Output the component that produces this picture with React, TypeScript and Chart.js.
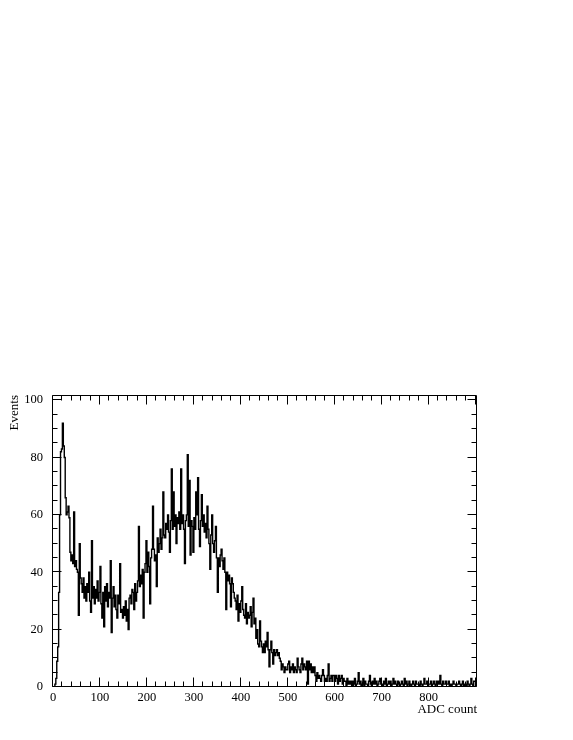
import React, { useEffect, useRef } from 'react';
import { Chart, registerables } from 'chart.js';

Chart.register(...registerables);

// ---- data (bins of width BIN_WIDTH starting at 0) ----
const BIN_WIDTH = 2;
// 0 – 58
const countsPeak = [
  0, 0, 0, 1, 3, 9, 14, 33, 60, 82,
  83, 92, 84, 80, 66, 60, 61, 63, 59, 47,
  44, 46, 43, 61, 42, 44, 41, 40, 25, 50,
];
// 60 – 218
const countsValley = [
  38, 36, 33, 38, 31, 35, 30, 36, 33, 40,
  30, 26, 51, 31, 35, 29, 34, 31, 37, 30,
  33, 42, 29, 24, 33, 21, 35, 30, 36, 28,
  33, 31, 44, 19, 31, 35, 28, 32, 27, 24,
  32, 29, 43, 26, 27, 24, 28, 25, 30, 23,
  27, 20, 31, 32, 29, 34, 33, 27, 36, 30,
  33, 37, 56, 35, 39, 36, 41, 24, 40, 43,
  51, 40, 47, 42, 29, 45, 48, 63, 48, 44,
];
// 220 – 418
const countsBump = [
  46, 35, 52, 47, 50, 55, 48, 52, 68, 53,
  52, 57, 55, 60, 54, 47, 58, 76, 55, 68,
  56, 60, 50, 59, 57, 61, 55, 76, 57, 60,
  55, 43, 58, 60, 81, 56, 72, 46, 58, 56,
  47, 59, 55, 68, 60, 73, 55, 49, 58, 67,
  56, 60, 54, 57, 52, 63, 55, 50, 41, 53,
  60, 50, 47, 51, 56, 45, 33, 45, 42, 46,
  48, 44, 41, 45, 40, 27, 40, 37, 39, 36,
  28, 38, 36, 33, 31, 30, 27, 32, 23, 29,
  26, 30, 35, 27, 25, 24, 29, 22, 26, 24,
];
// 420 – 598
const countsFall = [
  25, 28, 21, 26, 31, 22, 24, 17, 20, 15,
  14, 23, 16, 14, 12, 15, 12, 16, 14, 19,
  13, 7, 13, 16, 12, 8, 13, 11, 12, 13,
  11, 12, 10, 9, 6, 8, 7, 5, 7, 6,
  6, 8, 9, 5, 7, 6, 8, 5, 7, 6,
  5, 10, 7, 6, 5, 8, 10, 6, 8, 7,
  6, 9, 1, 9, 6, 8, 5, 7, 5, 7,
  4, 2, 5, 3, 4, 3, 2, 4, 6, 4,
  2, 3, 2, 4, 8, 2, 3, 4, 2, 4,
];
// 600 – 898
const countsTail = [
  4, 2, 4, 3, 1, 4, 2, 3, 4, 1,
  3, 2, 2, 0, 3, 1, 2, 1, 2, 0,
  2, 1, 3, 0, 1, 2, 5, 1, 2, 0,
  1, 3, 0, 2, 1, 1, 0, 2, 4, 1,
  0, 2, 1, 3, 1, 2, 0, 1, 2, 3,
  1, 1, 0, 2, 1, 3, 0, 1, 2, 1,
  2, 0, 1, 3, 1, 2, 1, 0, 2, 1,
  0, 1, 2, 1, 0, 3, 1, 2, 0, 1,
  2, 1, 0, 1, 2, 1, 0, 2, 1, 1,
  1, 0, 2, 1, 0, 1, 3, 1, 1, 2,
  0, 1, 1, 2, 0, 1, 2, 1, 0, 2,
  1, 2, 1, 4, 1, 0, 2, 1, 1, 2,
  1, 1, 2, 0, 1, 0, 1, 2, 1, 1,
  0, 1, 1, 2, 1, 0, 1, 2, 0, 1,
  1, 0, 2, 1, 0, 1, 3, 1, 0, 2,
];

const xTickValues = [0, 100, 200, 300, 400, 500, 600, 700, 800];
const yTickValues = [0, 20, 40, 60, 80, 100];
const X_MIN = 0;
const X_MAX = 903;
const Y_MIN = 0;
const Y_MAX = 101.8;
const X_MINOR_STEP = 20;
const Y_MINOR_STEP = 5;
const xTitle = 'ADC count';
const yTitle = 'Events';

const FONT_FAMILY = "'Liberation Serif', 'Times New Roman', serif";

const frameTicks = {
  id: 'frameTicks',
  afterDraw(chart: any) {
    const { ctx, chartArea, scales } = chart;
    const xs = scales.x;
    const ys = scales.y;
    const L = Math.round(chartArea.left) - 0.5;
    const R = Math.round(chartArea.right) - 0.5;
    const T = Math.round(chartArea.top) + 0.5;
    const B = Math.round(chartArea.bottom) - 0.5;
    ctx.save();
    ctx.strokeStyle = '#000';
    ctx.lineWidth = 1;
    ctx.beginPath();
    ctx.rect(L, T, R - L, B - T);
    for (let v = X_MIN; v <= X_MAX; v += X_MINOR_STEP) {
      const px = Math.round(xs.getPixelForValue(v)) - 0.5;
      const len = v % 100 === 0 ? 9 : 5;
      ctx.moveTo(px, B);
      ctx.lineTo(px, B - len);
      ctx.moveTo(px, T);
      ctx.lineTo(px, T + len);
    }
    for (let v = Y_MIN; v <= Y_MAX; v += Y_MINOR_STEP) {
      const py = Math.round(ys.getPixelForValue(v)) - 0.5;
      const len = yTickValues.includes(v) ? 9 : 5;
      ctx.moveTo(L, py);
      ctx.lineTo(L + len, py);
      ctx.moveTo(R, py);
      ctx.lineTo(R - len, py);
    }
    ctx.stroke();
    ctx.restore();
  },
};

export default function App() {
  const canvasRef = useRef<HTMLCanvasElement | null>(null);

  useEffect(() => {
    const canvas = canvasRef.current;
    if (!canvas) return;
    const counts = [
      ...countsPeak,
      ...countsValley,
      ...countsBump,
      ...countsFall,
      ...countsTail,
    ];
    const points = counts.map((c, i) => ({ x: i * BIN_WIDTH, y: c }));
    points.push({ x: counts.length * BIN_WIDTH, y: counts[counts.length - 1] });

    const chart = new Chart(canvas, {
      type: 'line',
      data: {
        datasets: [
          {
            data: points,
            borderColor: '#000',
            borderWidth: 1.4,
            pointRadius: 0,
            stepped: 'after',
            fill: false,
            tension: 0,
          },
        ],
      },
      options: {
        animation: false,
        responsive: false,
        devicePixelRatio: 1,
        layout: { padding: { left: 3, right: 96, top: 395, bottom: 19 } },
        plugins: {
          legend: { display: false },
          tooltip: { enabled: false },
        },
        scales: {
          x: {
            type: 'linear',
            min: X_MIN,
            max: X_MAX,
            grid: { display: false, drawTicks: false },
            border: { display: false },
            afterBuildTicks: (s: any) => {
              s.ticks = xTickValues.map((v) => ({ value: v }));
            },
            afterFit: (s: any) => {
              s.height = 34;
            },
            ticks: {
              padding: 3,
              color: '#000',
              maxRotation: 0,
              autoSkip: false,
              font: { family: FONT_FAMILY, size: 12.5 },
            },
            title: {
              display: true,
              text: xTitle,
              align: 'end',
              color: '#000',
              font: { family: FONT_FAMILY, size: 13 },
              padding: { top: 0, bottom: 4 },
            },
          },
          y: {
            type: 'linear',
            min: Y_MIN,
            max: Y_MAX,
            grid: { display: false, drawTicks: false },
            border: { display: false },
            afterBuildTicks: (s: any) => {
              s.ticks = yTickValues.map((v) => ({ value: v }));
            },
            afterFit: (s: any) => {
              s.width = 50;
            },
            ticks: {
              padding: 10,
              color: '#000',
              autoSkip: false,
              font: { family: FONT_FAMILY, size: 12.5 },
            },
            title: {
              display: true,
              text: yTitle,
              align: 'end',
              color: '#000',
              font: { family: FONT_FAMILY, size: 13 },
              padding: { top: 4, bottom: 0 },
            },
          },
        },
      },
      plugins: [frameTicks],
    } as any);

    return () => {
      chart.destroy();
    };
  }, []);

  return (
    <div style={{ position: 'absolute', left: 0, top: 0, width: 573, height: 740, background: '#fff' }}>
      <canvas ref={canvasRef} width={573} height={740} style={{ display: 'block', width: 573, height: 740 }} />
    </div>
  );
}
